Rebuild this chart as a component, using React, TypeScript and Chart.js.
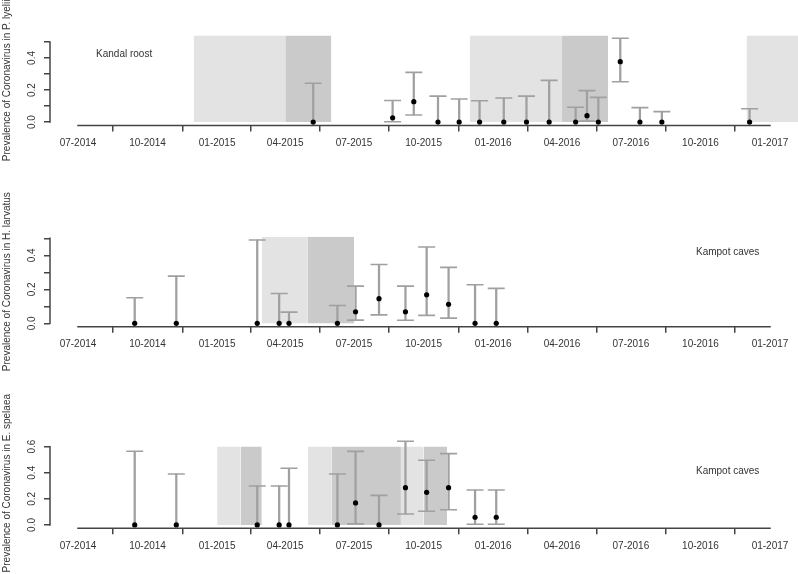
import React, { useEffect, useRef } from 'react';
import { Chart, registerables } from 'chart.js';

Chart.register(...registerables);

// ---------- shared axis data ----------
const ORIGIN = '2014-07-01';
const X_RANGE = ['2014-05-25', '2017-02-07'];
const TICK_DATES = ['2014-07-01', '2014-10-01', '2015-01-01', '2015-04-01', '2015-07-01', '2015-10-01', '2016-01-01', '2016-04-01', '2016-07-01', '2016-10-01', '2017-01-01'];
const TICK_LABELS = ['07-2014', '10-2014', '01-2015', '04-2015', '07-2015', '10-2015', '01-2016', '04-2016', '07-2016', '10-2016', '01-2017'];
const SHADE_TOP = 0.6;

// ---------- Panel 1: P. lyelii, Kandal roost ----------
const LYELII_DATES = ['2015-05-08', '2015-08-21', '2015-09-18', '2015-10-20', '2015-11-17', '2015-12-14', '2016-01-15', '2016-02-14', '2016-03-15', '2016-04-19', '2016-05-04', '2016-05-19', '2016-06-17', '2016-07-13', '2016-08-11', '2016-12-05'];
const LYELII_PREV = [0, 0.027, 0.127, 0, 0, 0, 0, 0, 0, 0, 0.04, 0, 0.377, 0, 0, 0];
const LYELII_LOW = [0, 0.002, 0.044, 0, 0, 0, 0, 0, 0, 0, 0.006, 0, 0.252, 0, 0, 0];
const LYELII_HIGH = [0.242, 0.135, 0.31, 0.162, 0.144, 0.133, 0.15, 0.162, 0.26, 0.092, 0.196, 0.154, 0.523, 0.09, 0.065, 0.083];
const LYELII_SHADE_START = ['2014-12-01', '2015-04-01', '2015-12-01', '2016-04-01', '2016-12-01'];
const LYELII_SHADE_END = ['2015-04-01', '2015-06-01', '2016-04-01', '2016-06-01', '2017-04-01'];
const LYELII_SHADE_KIND = ['light', 'dark', 'light', 'dark', 'light'];
const LYELII_Y_TICKS = [0, 0.1, 0.2, 0.3, 0.4, 0.5];
const LYELII_Y_LABELS = ['0.0', '', '0.2', '', '0.4', ''];
const LYELII_Y_RANGE = [-0.0208, 0.5408];

// ---------- Panel 2: H. larvatus, Kampot caves ----------
const KAMPOT_DATES = ['2014-09-14', '2014-11-08', '2015-02-23', '2015-03-24', '2015-04-06', '2015-06-09', '2015-07-03', '2015-08-03', '2015-09-07', '2015-10-05', '2015-11-03', '2015-12-08', '2016-01-05'];
const LARVATUS_PREV = [0, 0, 0, 0, 0, 0, 0.068, 0.145, 0.068, 0.168, 0.112, 0, 0];
const LARVATUS_LOW = [0, 0, 0, 0, 0, 0, 0.019, 0.05, 0.018, 0.047, 0.031, 0, 0];
const LARVATUS_HIGH = [0.151, 0.278, 0.49, 0.176, 0.066, 0.105, 0.219, 0.346, 0.219, 0.449, 0.329, 0.227, 0.206];
const LARVATUS_SHADE_START = ['2015-03-01', '2015-05-01'];
const LARVATUS_SHADE_END = ['2015-05-01', '2015-07-01'];
const LARVATUS_SHADE_KIND = ['light', 'dark'];
const LARVATUS_Y_TICKS = [0, 0.1, 0.2, 0.3, 0.4, 0.5];
const LARVATUS_Y_LABELS = ['0.0', '', '0.2', '', '0.4', ''];
const LARVATUS_Y_RANGE = [-0.0196, 0.5096];

// ---------- Panel 3: E. spelaea, Kampot caves ----------
const SPELAEA_PREV = [0, 0, 0, 0, 0, 0, 0.169, 0, 0.286, 0.25, 0.286, 0.059, 0.059];
const SPELAEA_LOW = [0, 0, 0, 0, 0, 0, 0.008, 0, 0.084, 0.105, 0.117, 0.005, 0.005];
const SPELAEA_HIGH = [0.565, 0.391, 0.299, 0.299, 0.434, 0.391, 0.564, 0.227, 0.641, 0.496, 0.547, 0.268, 0.268];
const SPELAEA_SHADE_START = ['2015-01-01', '2015-02-01', '2015-05-01', '2015-06-01', '2015-09-01', '2015-10-01'];
const SPELAEA_SHADE_END = ['2015-02-01', '2015-03-01', '2015-06-01', '2015-09-01', '2015-10-01', '2015-11-01'];
const SPELAEA_SHADE_KIND = ['light', 'dark', 'light', 'dark', 'light', 'dark'];
const SPELAEA_Y_TICKS = [0, 0.1, 0.2, 0.3, 0.4, 0.5, 0.6];
const SPELAEA_Y_LABELS = ['0.0', '', '0.2', '', '0.4', '', '0.6'];
const SPELAEA_Y_RANGE = [-0.0256, 0.6656];

// ---------- styles ----------
const FONT = '"Liberation Sans", Arial, Helvetica, sans-serif';
const TEXT = '#333333';
const AXIS = '#444444';
const BAR_GRAY = '#a0a0a0';
const LIGHT = '#e3e3e3';
const DARK = '#cacaca';
const W = 798;

function day(d: string): number {
  const [y, m, dd] = d.split('-').map(Number);
  const [oy, om, od] = ORIGIN.split('-').map(Number);
  return (Date.UTC(y, m - 1, dd) - Date.UTC(oy, om - 1, od)) / 86400000;
}

const rAxisPlugin = {
  id: 'rAxis',
  afterDraw(chart: any, _args: any, opts: any) {
    const { ctx } = chart;
    const xs = chart.scales.x;
    const ys = chart.scales.y;
    ctx.save();
    ctx.strokeStyle = AXIS;
    ctx.lineWidth = 1.5;
    ctx.lineCap = 'square';
    const xt = xs.ticks;
    ctx.beginPath();
    ctx.moveTo(xs.getPixelForValue(xt[0].value), xs.top);
    ctx.lineTo(xs.getPixelForValue(xt[xt.length - 1].value), xs.top);
    ctx.stroke();
    const yt = ys.ticks;
    ctx.beginPath();
    ctx.moveTo(ys.right, ys.getPixelForValue(yt[0].value));
    ctx.lineTo(ys.right, ys.getPixelForValue(yt[yt.length - 1].value));
    ctx.stroke();
    if (opts && opts.text) {
      ctx.fillStyle = TEXT;
      ctx.font = `10px ${FONT}`;
      ctx.textAlign = 'center';
      ctx.textBaseline = 'middle';
      ctx.fillText(opts.text, xs.getPixelForValue(day(opts.x)), ys.getPixelForValue(opts.y));
    }
    ctx.restore();
  },
};

type PanelCfg = {
  top: number;
  height: number;
  padTop: number;
  xHeight: number;
  title: string;
  label: string;
  labelDate: string;
  labelY: number;
  dates: string[];
  prev: number[];
  low: number[];
  high: number[];
  shadeStart: string[];
  shadeEnd: string[];
  shadeKind: string[];
  yTicks: number[];
  yLabels: string[];
  yRange: number[];
};

const PANELS: PanelCfg[] = [
  {
    top: 0, height: 191, padTop: 35.4, xHeight: 65.6,
    title: 'Prevalence of Coronavirus in P. lyelii',
    label: 'Kandal roost', labelDate: '2014-08-31', labelY: 0.425,
    dates: LYELII_DATES, prev: LYELII_PREV, low: LYELII_LOW, high: LYELII_HIGH,
    shadeStart: LYELII_SHADE_START, shadeEnd: LYELII_SHADE_END, shadeKind: LYELII_SHADE_KIND,
    yTicks: LYELII_Y_TICKS, yLabels: LYELII_Y_LABELS, yRange: LYELII_Y_RANGE,
  },
  {
    top: 191, height: 192, padTop: 45.7, xHeight: 56.3,
    title: 'Prevalence of Coronavirus in H. larvatus',
    label: 'Kampot caves', labelDate: '2016-11-06', labelY: 0.421,
    dates: KAMPOT_DATES, prev: LARVATUS_PREV, low: LARVATUS_LOW, high: LARVATUS_HIGH,
    shadeStart: LARVATUS_SHADE_START, shadeEnd: LARVATUS_SHADE_END, shadeKind: LARVATUS_SHADE_KIND,
    yTicks: LARVATUS_Y_TICKS, yLabels: LARVATUS_Y_LABELS, yRange: LARVATUS_Y_RANGE,
  },
  {
    top: 383, height: 191, padTop: 55.1, xHeight: 45.7,
    title: 'Prevalence of Coronavirus in E. spelaea',
    label: 'Kampot caves', labelDate: '2016-11-06', labelY: 0.408,
    dates: KAMPOT_DATES, prev: SPELAEA_PREV, low: SPELAEA_LOW, high: SPELAEA_HIGH,
    shadeStart: SPELAEA_SHADE_START, shadeEnd: SPELAEA_SHADE_END, shadeKind: SPELAEA_SHADE_KIND,
    yTicks: SPELAEA_Y_TICKS, yLabels: SPELAEA_Y_LABELS, yRange: SPELAEA_Y_RANGE,
  },
];

function Panel({ cfg }: { cfg: PanelCfg }) {
  const ref = useRef<HTMLCanvasElement>(null);
  useEffect(() => {
    const shades = cfg.shadeStart.map((s, i) => ({
      type: 'line' as const,
      data: [
        { x: day(s), y: SHADE_TOP },
        { x: day(cfg.shadeEnd[i]), y: SHADE_TOP },
      ],
      fill: 'origin',
      backgroundColor: cfg.shadeKind[i] === 'light' ? LIGHT : DARK,
      borderColor: 'transparent',
      borderWidth: 0,
      pointRadius: 0,
      order: 4,
    }));
    const caps: { x: number; y: number }[] = [];
    cfg.dates.forEach((d, i) => {
      caps.push({ x: day(d), y: cfg.high[i] });
      if (cfg.prev[i] > cfg.low[i]) caps.push({ x: day(d), y: cfg.low[i] });
    });
    const chart = new Chart(ref.current as HTMLCanvasElement, {
      type: 'scatter',
      data: {
        datasets: [
          ...shades,
          {
            type: 'bar',
            data: cfg.dates.map((d, i) => ({ x: day(d), y: [cfg.low[i], cfg.high[i]] })),
            backgroundColor: BAR_GRAY,
            barThickness: 1.6,
            borderWidth: 0,
            order: 3,
          },
          {
            type: 'scatter',
            data: caps,
            pointStyle: 'line',
            pointRadius: 8.5,
            borderColor: BAR_GRAY,
            pointBorderColor: BAR_GRAY,
            pointBorderWidth: 1.6,
            order: 2,
          },
          {
            type: 'scatter',
            data: cfg.dates.map((d, i) => ({ x: day(d), y: cfg.prev[i] })),
            pointRadius: 2.6,
            backgroundColor: '#000000',
            pointBackgroundColor: '#000000',
            borderWidth: 0,
            pointBorderWidth: 0,
            order: 1,
          },
        ] as any,
      },
      options: {
        animation: false,
        responsive: false,
        events: [],
        layout: { autoPadding: false, padding: { top: cfg.padTop, left: 0, right: 0, bottom: 0 } },
        plugins: {
          legend: { display: false },
          tooltip: { enabled: false },
          rAxis: { text: cfg.label, x: cfg.labelDate, y: cfg.labelY },
        } as any,
        scales: {
          x: {
            type: 'linear',
            min: day(X_RANGE[0]),
            max: day(X_RANGE[1]),
            offset: false,
            afterBuildTicks: (s: any) => {
              s.ticks = TICK_DATES.map((d) => ({ value: day(d) }));
            },
            afterFit: (s: any) => {
              s.height = cfg.xHeight;
              s.paddingLeft = 0;
              s.paddingRight = 0;
              s.paddingTop = 0;
              s.paddingBottom = 0;
            },
            ticks: {
              autoSkip: false,
              maxRotation: 0,
              minRotation: 0,
              padding: 6,
              color: TEXT,
              font: { size: 10, family: FONT },
              callback: (_v: any, i: number) => TICK_LABELS[i],
            },
            grid: { drawOnChartArea: false, drawTicks: true, tickLength: 6, color: AXIS, lineWidth: 1.5 },
            border: { display: false },
          },
          y: {
            type: 'linear',
            min: cfg.yRange[0],
            max: cfg.yRange[1],
            afterBuildTicks: (s: any) => {
              s.ticks = cfg.yTicks.map((v) => ({ value: v }));
            },
            afterFit: (s: any) => {
              s.width = 50;
              s.paddingLeft = 0;
              s.paddingRight = 0;
              s.paddingTop = 0;
              s.paddingBottom = 0;
            },
            ticks: {
              minRotation: 90,
              maxRotation: 90,
              crossAlign: 'center',
              padding: 4.7,
              color: TEXT,
              font: { size: 10, family: FONT },
              callback: (_v: any, i: number) => cfg.yLabels[i],
            },
            grid: { drawOnChartArea: false, drawTicks: true, tickLength: 6, color: AXIS, lineWidth: 1.5 },
            border: { display: false },
            title: {
              display: true,
              text: cfg.title,
              color: TEXT,
              font: { size: 10, family: FONT },
              padding: { top: 1.5, bottom: 0 },
            },
          },
        },
      } as any,
      plugins: [rAxisPlugin as any],
    });
    return () => chart.destroy();
  }, [cfg]);
  return (
    <div style={{ position: 'absolute', left: 0, top: cfg.top, width: W, height: cfg.height }}>
      <canvas ref={ref} width={W} height={cfg.height} style={{ display: 'block' }} />
    </div>
  );
}

export default function App() {
  return (
    <div style={{ position: 'absolute', left: 0, top: 0, width: W, height: 574, background: '#ffffff', overflow: 'hidden' }}>
      {PANELS.map((p, i) => (
        <Panel key={i} cfg={p} />
      ))}
    </div>
  );
}
